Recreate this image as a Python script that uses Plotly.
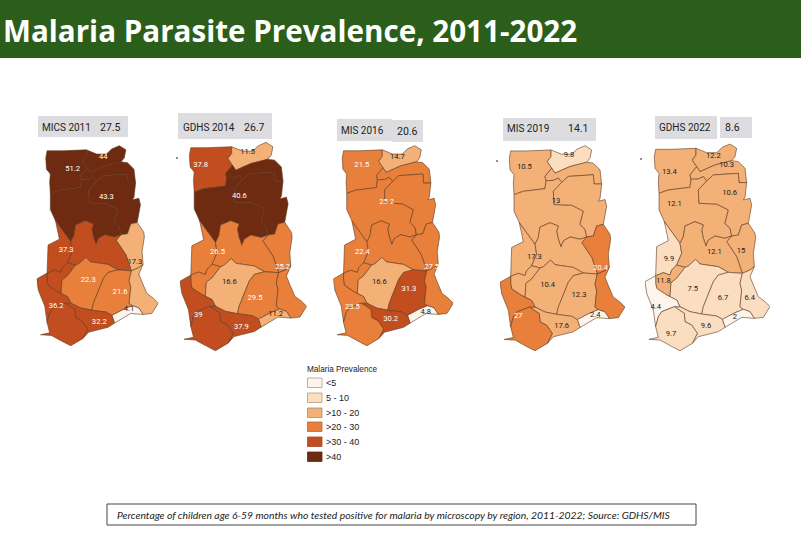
import plotly.graph_objects as go

W = 801
H = 534

region_names = ['Upper West', 'Upper East', 'North East', 'Savannah', 'Northern', 'Oti',
                'Bono', 'Bono East', 'Ahafo', 'Ashanti', 'Eastern', 'Volta',
                'Greater Accra', 'Central', 'Western North', 'Western']
upper_west = [(62, 118), (110, 118), (183, 115), (183, 135), (172, 150), (185, 170), (165, 195), (168, 208),
              (165, 232), (100, 240), (72, 250), (70, 215), (72, 190), (60, 175), (58, 140)]
upper_east = [(183, 115), (215, 128), (245, 128), (262, 112), (285, 102), (305, 115), (300, 140), (290, 152),
              (280, 155), (240, 165), (195, 185), (185, 170), (172, 150), (183, 135)]
north_east = [(185, 170), (195, 185), (240, 165), (280, 155), (290, 152), (310, 155), (330, 175), (335, 218),
              (312, 218), (310, 190), (235, 195), (215, 213), (205, 200), (190, 207), (168, 208), (165, 195)]
savannah = [(72, 250), (100, 240), (165, 232), (168, 208), (190, 207), (205, 200), (215, 213), (190, 240),
            (192, 280), (245, 282), (280, 300), (270, 340), (285, 355), (290, 378), (270, 385), (240, 378),
            (220, 390), (213, 408), (205, 385), (200, 360), (205, 345), (180, 335), (150, 348), (145, 380),
            (135, 400), (88, 335), (72, 300)]
northern = [(215, 213), (235, 195), (310, 190), (312, 218), (335, 218), (330, 262), (325, 270), (345, 265),
            (350, 285), (345, 320), (340, 340), (320, 345), (310, 375), (290, 378), (285, 355), (270, 340),
            (280, 300), (245, 282), (192, 280), (190, 240)]
oti = [(340, 340), (360, 370), (362, 385), (355, 430), (358, 470), (345, 480), (322, 490), (305, 440),
       (275, 395), (290, 378), (310, 375), (320, 345)]
bono = [(88, 335), (135, 400), (140, 430), (125, 465), (110, 480), (105, 495), (85, 488), (62, 497), (65, 410),
        (100, 392)]
bono_east = [(135, 400), (145, 380), (150, 348), (180, 335), (205, 345), (200, 360), (205, 385), (213, 408),
             (220, 390), (240, 378), (270, 385), (290, 378), (275, 395), (305, 440), (322, 490), (280, 487),
             (250, 470), (195, 462), (182, 448), (160, 468), (150, 472), (125, 465), (140, 430)]
ahafo = [(62, 497), (85, 488), (105, 495), (110, 480), (125, 465), (150, 472), (125, 505), (108, 518),
         (105, 560), (95, 555), (65, 535), (62, 520)]
ashanti = [(108, 518), (125, 505), (150, 472), (160, 468), (182, 448), (195, 462), (250, 470), (280, 487),
           (250, 495), (235, 515), (225, 540), (205, 590), (200, 612), (165, 605), (135, 590), (125, 570),
           (105, 560)]
eastern = [(280, 487), (322, 490), (315, 520), (320, 540), (315, 590), (325, 598), (300, 608), (262, 628),
           (245, 618), (200, 612), (205, 590), (225, 540), (235, 515), (250, 495)]
volta = [(322, 490), (345, 480), (358, 470), (345, 500), (355, 525), (370, 560), (390, 575), (405, 590),
         (385, 622), (358, 625), (345, 605), (325, 598), (315, 590), (320, 540), (315, 520)]
greater_accra = [(325, 598), (345, 605), (358, 625), (320, 622), (290, 640), (270, 652), (262, 628), (300, 608)]
central = [(118, 590), (135, 590), (165, 605), (200, 612), (245, 618), (262, 628), (270, 652), (250, 665),
           (190, 680), (172, 700), (187, 670), (170, 645), (150, 635), (148, 610)]
western_north = [(30, 515), (50, 505), (62, 497), (62, 520), (65, 535), (95, 555), (105, 560), (125, 570),
                 (135, 590), (118, 590), (80, 605), (70, 620), (62, 650), (55, 600), (35, 550)]
western = [(80, 605), (118, 590), (148, 610), (150, 635), (170, 645), (187, 670), (172, 700), (135, 722),
           (115, 712), (75, 690), (42, 688), (70, 682), (62, 650), (70, 620)]
outlines = [upper_west, upper_east, north_east, savannah, northern, oti, bono, bono_east, ahafo, ashanti,
            eastern, volta, greater_accra, central, western_north, western]

# prevalence per region, same order as region_names
mics_2011 = [51.2, 44, 43.3, 43.3, 43.3, 17.3, 37.3, 37.3, 37.3, 22.3, 21.6, 17.3, 4.1, 32.2, 36.2, 36.2]
gdhs_2014 = [37.8, 11.5, 40.6, 40.6, 40.6, 25.2, 26.5, 26.5, 26.5, 16.6, 29.5, 25.2, 11.2, 37.9, 39, 39]
mis_2016 = [21.5, 14.7, 25.2, 25.2, 25.2, 27.5, 22.4, 22.4, 22.4, 16.6, 31.3, 27.5, 4.8, 30.2, 23.5, 23.5]
mis_2019 = [10.5, 9.8, 13, 13, 13, 20.4, 17.3, 17.3, 17.3, 10.4, 12.3, 20.4, 2.4, 17.6, 27, 27]
gdhs_2022 = [13.4, 12.2, 10.3, 12.1, 10.6, 15, 9.9, 12.1, 11.8, 7.5, 6.7, 6.4, 2, 9.6, 4.4, 9.7]

# printed labels
labels_2011 = [51.2, 44, 43.3, 37.3, 17.3, 22.3, 21.6, 36.2, 4.1, 32.2]
labels_2014 = [37.8, 11.5, 40.6, 26.5, 25.2, 16.6, 29.5, 39, 37.9, 11.2]
labels_2016 = [21.5, 14.7, 25.2, 22.4, 27.5, 16.6, 31.3, 23.5, 4.8, 30.2]
labels_2019 = [10.5, 9.8, 13, 17.3, 20.4, 10.4, 12.3, 27, 17.6, 2.4]
labels_2022 = [13.4, 12.2, 10.3, 10.6, 12.1, 12.1, 15, 9.9, 11.8, 7.5, 6.7, 6.4, 4.4, 9.6, 2, 9.7]

label_x_2011 = [141, 235, 245, 121, 333, 189, 287, 90, 315, 223]
label_y_2011 = [174, 139, 260, 427, 464, 520, 555, 598, 609, 650]
label_x_2014 = [91, 230, 206, 141, 334, 176, 252, 84, 212, 313]
label_y_2014 = [169, 131, 262, 430, 472, 517, 566, 617, 652, 613]
label_x_2016 = [119, 230, 197, 121, 337, 174, 266, 90, 319, 209]
label_y_2016 = [162, 136, 277, 432, 477, 525, 545, 601, 617, 639]
label_x_2019 = [103, 237, 198, 133, 332, 173, 267, 85, 215, 316]
label_y_2019 = [168, 132, 271, 440, 473, 524, 554, 617, 647, 614]
label_x_2022 = [103, 235, 275, 284, 118, 238, 318, 102, 85, 173, 264, 344, 62, 213, 300, 108]
label_y_2022 = [185, 138, 166, 250, 281, 427, 424, 448, 513, 538, 563, 563, 592, 647, 622, 673]

surveys = ['MICS 2011', 'GDHS 2014', 'MIS 2016', 'MIS 2019', 'GDHS 2022']
national = ['27.5', '26.7', '20.6', '14.1', '8.6']

bin_names = ['<5', '5 - 10', '>10 - 20', '>20 - 30', '>30 - 40', '>40']
bin_tops = [5, 10, 20, 30, 40, 1000]
bin_colors = ['#FDF5EC', '#FBDDC0', '#F3B077', '#E87F3A', '#C24E20', '#6F2A12']
bin_edges = ['#A89F94', '#B09C85', '#A58F66', '#B5683A', '#A5492A', '#5B2A18']


def bin_color(v):
    for top, col in zip(bin_tops, bin_colors):
        if v <= top:
            return col


def px_x(x):
    return x / W


def px_y(y):
    return 1 - y / H


panels = [
    (mics_2011, labels_2011, label_x_2011, label_y_2011),
    (gdhs_2014, labels_2014, label_x_2014, label_y_2014),
    (mis_2016, labels_2016, label_x_2016, label_y_2016),
    (mis_2019, labels_2019, label_x_2019, label_y_2019),
    (gdhs_2022, labels_2022, label_x_2022, label_y_2022),
]
# where each map sits on the page: left, right, top, bottom
map_boxes = [(36.7, 158.3, 145, 346.7), (180, 306.7, 141.7, 351.7), (333.3, 453.3, 145, 346.7),
             (500, 625, 145, 351.7), (645, 770, 143.3, 351.7)]

fig = go.Figure()
layout_axes = {}

for i, (values, labels, lx, ly) in enumerate(panels):
    n = i + 1
    xa = 'x' if n == 1 else 'x%d' % n
    ya = 'y' if n == 1 else 'y%d' % n
    for name, outline, v in zip(region_names, outlines, values):
        fig.add_trace(go.Scatter(
            x=[p[0] for p in outline] + [outline[0][0]],
            y=[p[1] for p in outline] + [outline[0][1]],
            mode='lines',
            fill='toself',
            fillcolor=bin_color(v),
            line=dict(color='#5E3A22', width=0.6),
            name=name,
            hoverinfo='skip',
            showlegend=False,
            xaxis=xa,
            yaxis=ya,
        ))
    fig.add_trace(go.Scatter(
        x=lx,
        y=ly,
        mode='text',
        text=[str(v) for v in labels],
        textposition='middle center',
        textfont=dict(family='Roboto', size=7.6, color=['#FFFFFF' if v > 20 else '#222222' for v in labels]),
        hoverinfo='skip',
        showlegend=False,
        xaxis=xa,
        yaxis=ya,
    ))
    left, right, top, bottom = map_boxes[i]
    key = '' if n == 1 else str(n)
    layout_axes['xaxis' + key] = dict(domain=[px_x(left), px_x(right)], range=[30, 405], visible=False, fixedrange=True)
    layout_axes['yaxis' + key] = dict(domain=[px_y(bottom), px_y(top)], range=[725, 100], visible=False, fixedrange=True)

shapes = []


def rect(x0, y0, x1, y1, fill, line=None, width=0):
    shapes.append(dict(type='rect', xref='paper', yref='paper', layer='below',
                       x0=px_x(x0), x1=px_x(x1), y0=px_y(y1), y1=px_y(y0),
                       fillcolor=fill, line=dict(color=line, width=width)))


annotations = []


def text(x, y, s, size, color='#222222', family='Roboto', anchor='left'):
    annotations.append(dict(xref='paper', yref='paper', x=px_x(x), y=px_y(y), text=s, showarrow=False,
                            xanchor=anchor, yanchor='middle', font=dict(family=family, size=size, color=color)))


# title band
rect(0, 0, W, 58, '#2B5E1A', '#2B5E1A', 0)
text(1, 30, '<b>Malaria Parasite Prevalence, 2011-2022</b>', 29.6, '#FFFFFF', 'Open Sans')

# grey survey tags
rect(38, 116, 128, 137, '#DDDDE0')
rect(178, 113, 272, 139, '#DDDDE0')
rect(337, 119, 392, 141, '#DDDDE0')
rect(392, 120, 423, 142, '#DDDDE0')
rect(503, 118, 596, 141, '#DDDDE0')
rect(655, 116, 717, 139, '#DDDDE0')
rect(720, 117, 752, 138, '#DDDDE0')
name_centers = [(66.5, 127), (209, 127), (362, 130), (528, 128), (685, 127)]
value_centers = [(110, 127), (254, 127), (407, 131), (578, 128), (732, 127)]
for s, v, c, d in zip(surveys, national, name_centers, value_centers):
    text(c[0], c[1], s, 10, anchor='center')
    text(d[0], d[1], v, 10.5, anchor='center')

# stray specks next to the maps
for sx, sy in [(176, 157), (496, 160), (640, 158)]:
    rect(sx, sy, sx + 2, sy + 2, '#8A8F98')

# legend
text(305, 369.5, 'Malaria Prevalence', 8.2, family='Liberation Sans')
swatch_tops = [378, 393, 408, 422, 437, 452]
for t, nm, col, edge in zip(swatch_tops, bin_names, bin_colors, bin_edges):
    rect(307.5, t, 322, t + 9.5, col, edge, 0.8)
    text(324, t + 5, nm, 9, family='Liberation Sans')

# source box
rect(107, 504, 696, 525, '#FFFFFF', '#444444', 1)
text(115, 514.5, '<i>Percentage of children age 6-59 months who tested positive for malaria by microscopy by region, '
                 '2011-2022; Source: GDHS/MIS</i>', 10.35, family='Lato')

fig.update_layout(
    width=W,
    height=H,
    margin=dict(l=0, r=0, t=0, b=0),
    paper_bgcolor='#FFFFFF',
    plot_bgcolor='rgba(0,0,0,0)',
    shapes=shapes,
    annotations=annotations,
    **layout_axes,
)

fig.write_html("out.html", config={'displayModeBar': False}, post_script="document.body.style.margin = '0';")
